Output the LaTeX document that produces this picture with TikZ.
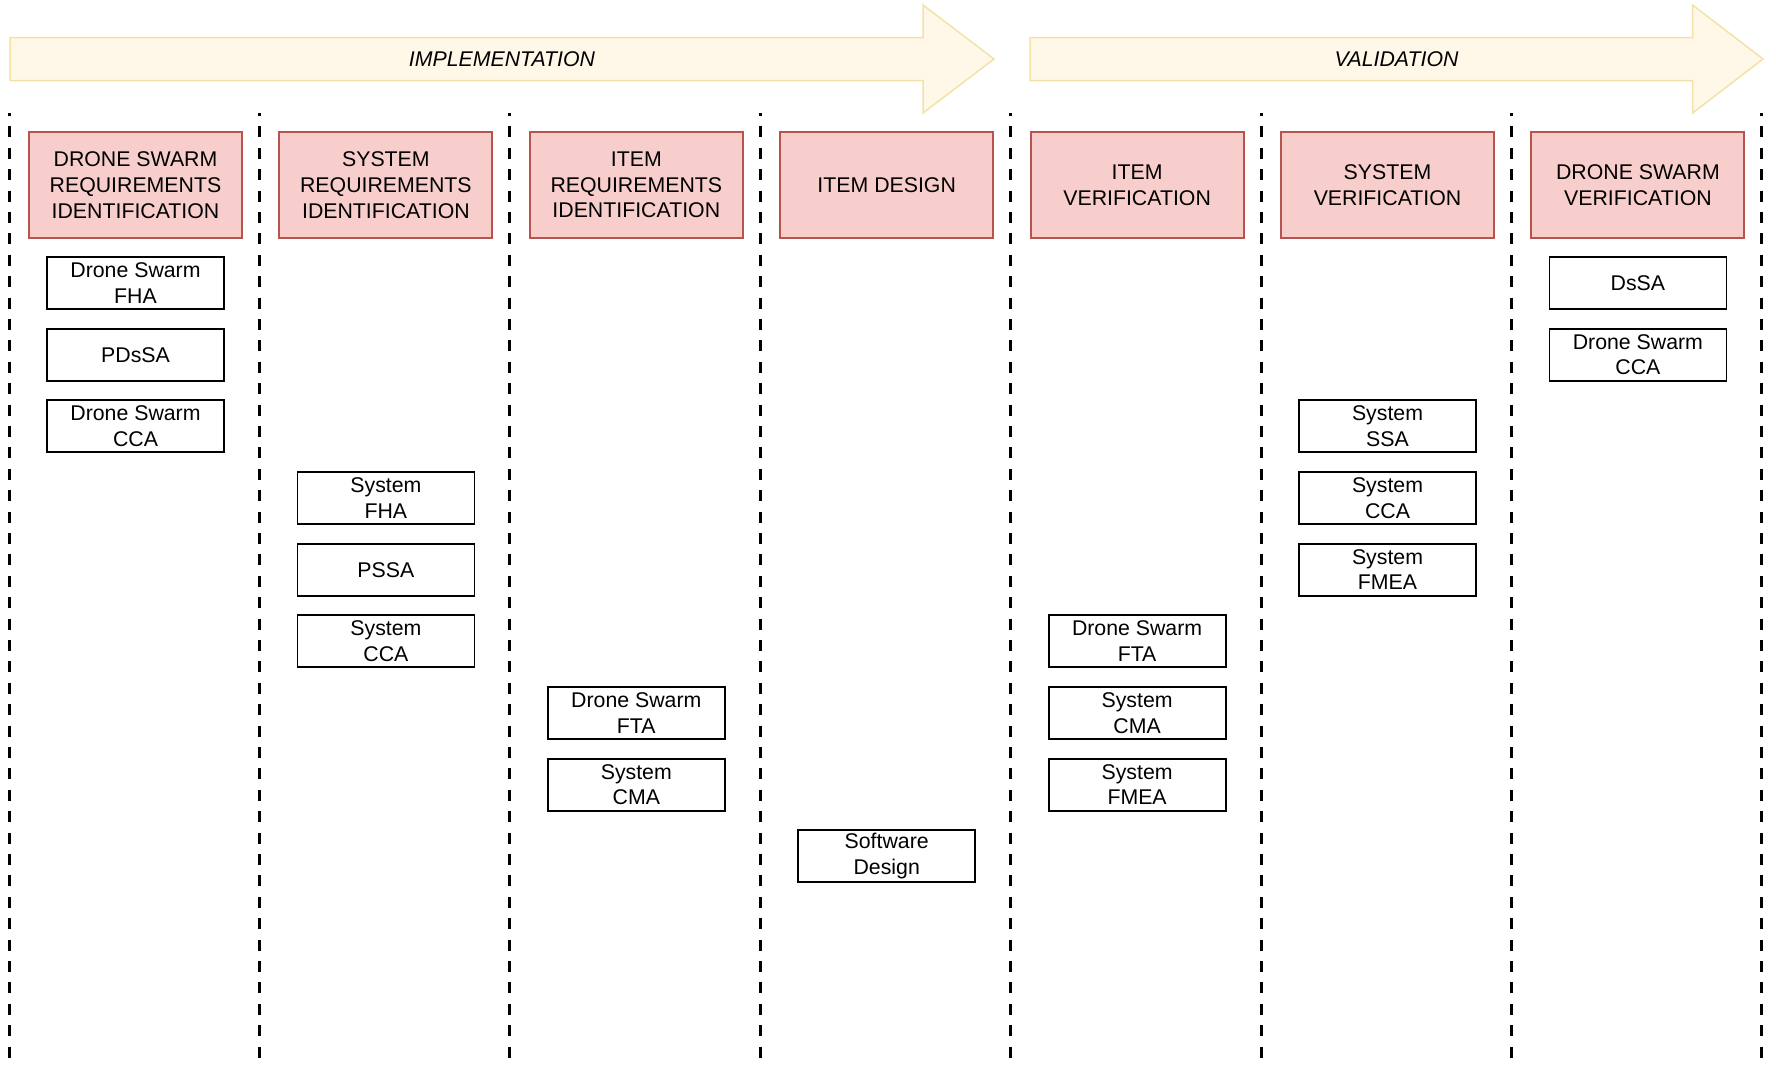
\documentclass[tikz,border=0pt]{standalone}
\usepackage{fontspec}
\setmainfont{Liberation Sans}
\definecolor{hdrfill}{HTML}{F8CECC}
\definecolor{hdrline}{HTML}{B85450}
\definecolor{bandfill}{HTML}{FFF8E8}
\definecolor{bandline}{HTML}{F2E2A6}
\begin{document}
\begin{tikzpicture}[x=1bp,y=-1bp,
  txt/.style={font=\fontsize{21.3bp}{25.7bp}\selectfont, align=center, inner sep=0pt},
  hdr/.style={txt, draw=hdrline, fill=hdrfill, line width=2bp, minimum width=213bp, minimum height=106bp},
  item/.style={txt, draw=black, fill=white, line width=1.8bp, minimum width=177bp, minimum height=52bp},
  lane/.style={line width=3bp, dash pattern=on 11bp off 10.4bp, dash phase=8bp},
  band/.style={draw=bandline, fill=bandfill, line width=1.5bp, line join=miter},
  bandlabel/.style={txt, font=\fontsize{21.3bp}{25.7bp}\selectfont\itshape}]
\useasboundingbox (0,0) rectangle (1776,1070);

% phase arrows
\draw[band] (10,37.5) -- (923,37.5) -- (923,5) -- (994,59) -- (923,113) -- (923,80.5) -- (10,80.5) -- cycle;
\draw[band] (1030,37.5) -- (1692.6,37.5) -- (1692.6,5) -- (1763,59) -- (1692.6,113) -- (1692.6,80.5) -- (1030,80.5) -- cycle;
\node[bandlabel] (impl) at (502,59) {IMPLEMENTATION};
\node[bandlabel] (val) at (1396.5,59) {VALIDATION};

% lane separators
\foreach \i in {0,...,7}{
  \draw[lane] ({9+250.4*\i},113) -- ({9+250.4*\i},1060);
}

% headers
\node[hdr] (h0) at (135.5,185) {DRONE SWARM\\REQUIREMENTS\\IDENTIFICATION};
\node[hdr] (h1) at (385.9,185) {SYSTEM\\REQUIREMENTS\\IDENTIFICATION};
\node[hdr] (h2) at (636.3,185) {ITEM\\REQUIREMENTS\\IDENTIFICATION};
\node[hdr] (h3) at (886.7,185) {ITEM DESIGN};
\node[hdr] (h4) at (1137.1,185) {ITEM\\VERIFICATION};
\node[hdr] (h5) at (1387.5,185) {SYSTEM\\VERIFICATION};
\node[hdr] (h6) at (1637.9,185) {DRONE SWARM\\VERIFICATION};

% column 0
\node[item] (a0) at (135.5,283) {Drone Swarm\\FHA};
\node[item] (a1) at (135.5,354.7) {PDsSA};
\node[item] (a2) at (135.5,426.3) {Drone Swarm\\CCA};
% column 1
\node[item] (b0) at (385.9,498) {System\\FHA};
\node[item] (b1) at (385.9,569.7) {PSSA};
\node[item] (b2) at (385.9,641.3) {System\\CCA};
% column 2
\node[item] (c0) at (636.3,713) {Drone Swarm\\FTA};
\node[item] (c1) at (636.3,784.7) {System\\CMA};
% column 3
\node[item] (d0) at (886.7,856.3) {Software\\Design};
% column 4
\node[item] (e0) at (1137.1,641.3) {Drone Swarm\\FTA};
\node[item] (e1) at (1137.1,713) {System\\CMA};
\node[item] (e2) at (1137.1,784.7) {System\\FMEA};
% column 5
\node[item] (f0) at (1387.5,426.3) {System\\SSA};
\node[item] (f1) at (1387.5,498) {System\\CCA};
\node[item] (f2) at (1387.5,569.7) {System\\FMEA};
% column 6
\node[item] (g0) at (1637.9,283) {DsSA};
\node[item] (g1) at (1637.9,354.7) {Drone Swarm\\CCA};
\end{tikzpicture}
\end{document}
